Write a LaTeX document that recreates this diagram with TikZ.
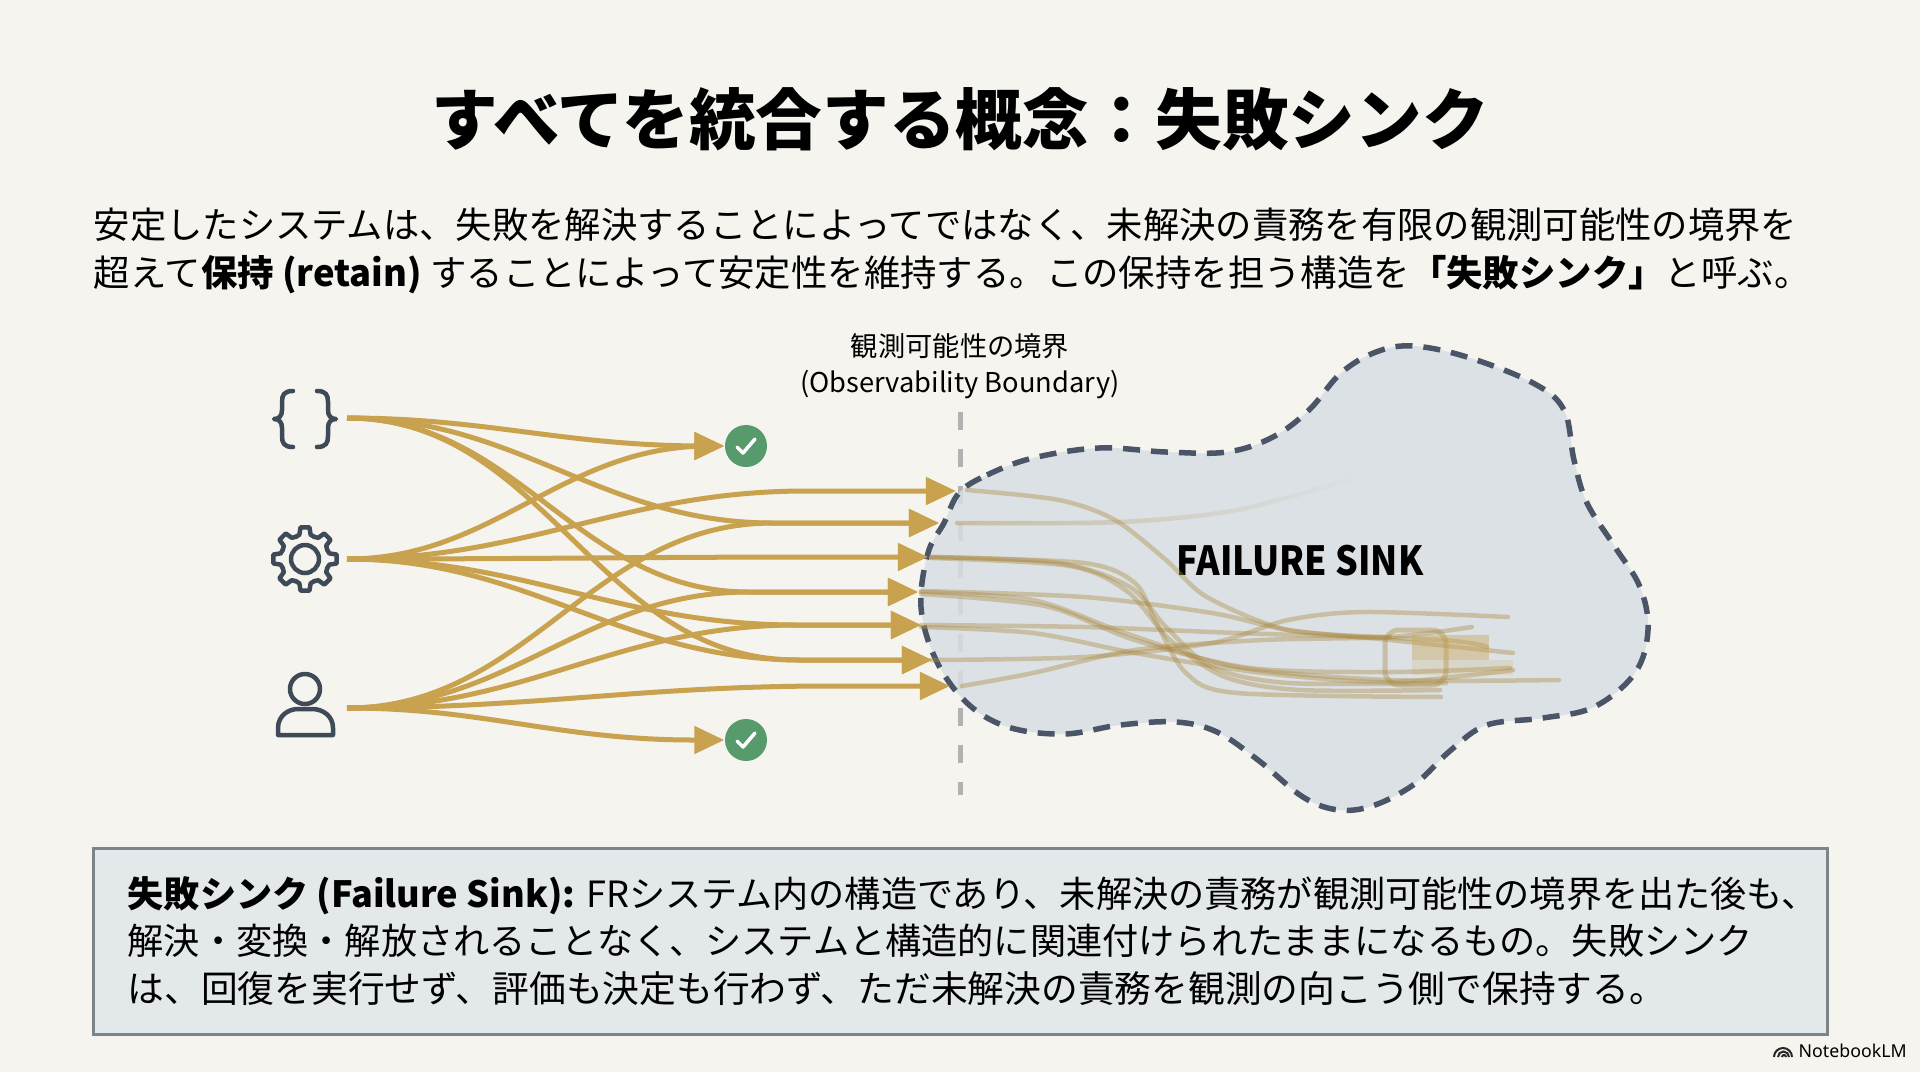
\documentclass[tikz,border=0pt]{standalone}
\usepackage{fontspec}
\usepackage{graphicx}
\usepackage{xcolor}
\setmainfont{Noto Sans CJK JP}
\newfontfamily\logofont{Noto Sans}
\usetikzlibrary{arrows.meta,positioning,calc,fadings}
\definecolor{paper}{HTML}{F5F4EE}
\definecolor{ink}{HTML}{3F4A59}
\definecolor{flowgold}{HTML}{C9A24F}
\definecolor{sinkfill}{HTML}{D8DEE4}
\definecolor{sinkedge}{HTML}{4A5568}
\definecolor{okgreen}{HTML}{579B6D}
\definecolor{notefill}{HTML}{E3E8EB}
\definecolor{noteedge}{HTML}{7C8587}
\tikzset{
  bodytext/.style={anchor=base west,font=\fontsize{#1}{12}\selectfont,text=black},
  bodytext/.default=10.3,
  flowline/.style={draw=flowgold,line width=0.05cm,-{Triangle[length=0.3cm,width=0.27cm]}},
  residue/.style={draw=flowgold!85!black,line width=0.045cm,opacity=0.4,line cap=round},
  iconline/.style={draw=ink,line width=0.045cm,line cap=round,line join=round},
  checkdot/.style={circle,fill=okgreen,minimum size=0.42cm}
}
\begin{document}
\begin{tikzpicture}[x=0.01cm,y=-0.01cm,every node/.style={inner sep=0pt}]
  \fill[paper] (0,0) rectangle (1920,1072);
  \useasboundingbox (0,0) rectangle (1920,1072);
  \node[font=\fontsize{18.95}{22}\selectfont\bfseries] (title) at (960,119) {すべてを統合する概念：失敗シンク};
  \node[bodytext=10.33] (introa) at (93,238) {安定したシステムは、失敗を解決することによってではなく、未解決の責務を有限の観測可能性の境界を};
  \node[bodytext=10.35] (introb) at (93,286) {超えて\textbf{保持 (retain)} することによって安定性を維持する。この保持を担う構造を\textbf{「失敗シンク」}と呼ぶ。};
  \node[font=\fontsize{7.75}{9}\selectfont] (bounda) at (960,346) {観測可能性の境界};
  \node[font=\fontsize{7.75}{9}\selectfont] (boundb) at (960,385) {(Observability Boundary)};
  \draw[gray!60,line width=0.05cm,dash pattern=on 0.18cm off 0.19cm] (960,412) -- (960,795);
  \draw[sinkedge,fill=sinkfill,fill opacity=0.85,line width=0.055cm,dash pattern=on 0.17cm off 0.11cm] plot[smooth cycle,tension=0.6] coordinates {
    (959,493) (987,475) (1033,458) (1099,448) (1166,452) (1227,452) (1273,437) (1309,410)
    (1341,373) (1376,352) (1413,346) (1467,357) (1533,383) (1564,410) (1574,460) (1587,503)
    (1615,547) (1640,587) (1648,630) (1635,673) (1594,707) (1543,718) (1487,725) (1451,750)
    (1416,783) (1375,805) (1339,810) (1303,797) (1258,760) (1217,732) (1176,722) (1120,725)
    (1064,734) (1008,727) (967,703) (936,660) (921,607) (928,553) (944,523)};
  \node[font=\fontsize{11.4}{14}\selectfont\bfseries] (sinklabel) at (1300,561) {\scalebox{0.89}[1]{FAILURE SINK}};
  \draw[residue] plot[smooth] coordinates {(967,490) (1059,500) (1115,520) (1166,560) (1207,597) (1288,630) (1390,637)};
  \draw[residue,path fading=east] plot[smooth] coordinates {(957,523) (1120,522) (1237,510) (1354,478)};
  \draw[residue] plot[smooth] coordinates {(931,557) (1084,563) (1135,583) (1155,620) (1186,673) (1237,693) (1441,697)};
  \draw[residue] plot[smooth] coordinates {(931,557) (1059,563) (1130,587) (1166,627) (1212,667) (1288,683) (1446,683)};
  \draw[residue] plot[smooth] coordinates {(931,558) (1070,566) (1128,592) (1170,640) (1225,677) (1300,690) (1440,690)};
  \draw[residue] plot[smooth] coordinates {(921,591) (1084,597) (1212,613) (1288,630) (1390,640) (1513,653)};
  \draw[residue] plot[smooth] coordinates {(921,592) (1033,600) (1125,633) (1237,667) (1390,680) (1559,680)};
  \draw[residue] plot[smooth] coordinates {(921,594) (1045,606) (1135,640) (1250,668) (1390,672) (1510,668)};
  \draw[residue] plot[smooth] coordinates {(921,625) (1084,627) (1237,633) (1441,640) (1487,647)};
  \draw[residue] plot[smooth] coordinates {(921,627) (1033,633) (1135,653) (1263,673) (1390,682) (1513,670)};
  \draw[residue] plot[smooth] coordinates {(931,660) (1084,657) (1212,643) (1288,620) (1365,612) (1508,617)};
  \draw[residue] plot[smooth] coordinates {(962,686) (1033,673) (1135,650) (1263,640) (1390,637) (1472,627)};
  \draw[residue,rounded corners=4,line width=0.05cm] (1385,630) rectangle (1446,685);
  \fill[flowgold,opacity=0.4] (1412,635) rectangle (1489,660);
  \fill[flowgold,opacity=0.18] (1412,660) rectangle (1513,675);
  \coordinate (codeout) at (347,418);
  \coordinate (gearout) at (347,559);
  \coordinate (userout) at (347,708);
  \coordinate (entrya) at (956,491);
  \coordinate (entryb) at (939,523);
  \coordinate (entryc) at (928,557);
  \coordinate (entryd) at (918,592);
  \coordinate (entrye) at (921,625);
  \coordinate (entryf) at (932,660);
  \coordinate (entryg) at (950,686);
  \node[checkdot] (oktop) at (746,446) {};
  \node[checkdot] (okbot) at (746,740) {};
  \foreach \chk in {oktop,okbot} {\draw[white,line width=0.035cm,line cap=round,line join=round] ($(\chk)+(-9,1)$) -- ($(\chk)+(-3,7)$) -- ($(\chk)+(9,-7)$);}
  \foreach \src/\tgt/\run in {codeout/oktop.west/20,codeout/entryb/166,codeout/entryd/169,codeout/entryf/135,
    gearout/oktop.west/15,gearout/entrya/150,gearout/entryc/100,gearout/entrye/124,gearout/entryf/130,
    userout/entryb/166,userout/entryd/169,userout/entrye/124,userout/entryg/120,userout/okbot.west/30} {
    \draw[flowline] (\src) to[out=0,in=180] ($(\tgt)+(-\run,0)$) -- (\tgt);
  }
  \draw[iconline] (293,391) .. controls (284,391) and (282,395) .. (282,402) -- (282,410) .. controls (282,416) and (279,419) .. (274,419) .. controls (279,419) and (282,422) .. (282,428) -- (282,436) .. controls (282,443) and (284,447) .. (293,447);
  \draw[iconline] (317,391) .. controls (326,391) and (328,395) .. (328,402) -- (328,410) .. controls (328,416) and (331,419) .. (336,419) .. controls (331,419) and (328,422) .. (328,428) -- (328,436) .. controls (328,443) and (326,447) .. (317,447);
  \begin{scope}[shift={(305,559)}]
    \foreach \a in {0,45,...,315} {\draw[iconline] (\a-22.5:24) -- (\a-13:25) -- (\a-8:32) -- (\a+8:32) -- (\a+13:25) -- (\a+22.5:24);}
    \draw[iconline] (0,0) circle (14);
  \end{scope}
  \draw[iconline] (305,689) circle (15);
  \draw[iconline] (278,735) -- (278,728) .. controls (278,716) and (288,709) .. (298,709) -- (312,709) .. controls (323,709) and (333,716) .. (333,728) -- (333,735) -- cycle;
  \node[draw=noteedge,fill=notefill,line width=0.03cm,minimum width=17.33cm,minimum height=1.86cm,anchor=north west] (notebox) at (92,847) {};
  \node[bodytext=10.28] (notea) at (127,907) {\textbf{失敗シンク (Failure Sink):} FRシステム内の構造であり、未解決の責務が観測可能性の境界を出た後も、};
  \node[bodytext=10.29] (noteb) at (127,954) {解決・変換・解放されることなく、システムと構造的に関連付けられたままになるもの。失敗シンク};
  \node[bodytext=10.45] (notec) at (127,1002) {は、回復を実行せず、評価も決定も行わず、ただ未解決の責務を観測の向こう側で保持する。};
  \node[anchor=west,font=\logofont\fontsize{5.05}{6}\selectfont] (logo) at (1798,1051) {NotebookLM};
  \draw[black!85,line width=0.02cm] (1774,1057) arc (180:360:9) (1778,1057) arc (180:360:5.5) (1782,1057) arc (180:360:2);
\end{tikzpicture}
\end{document}
